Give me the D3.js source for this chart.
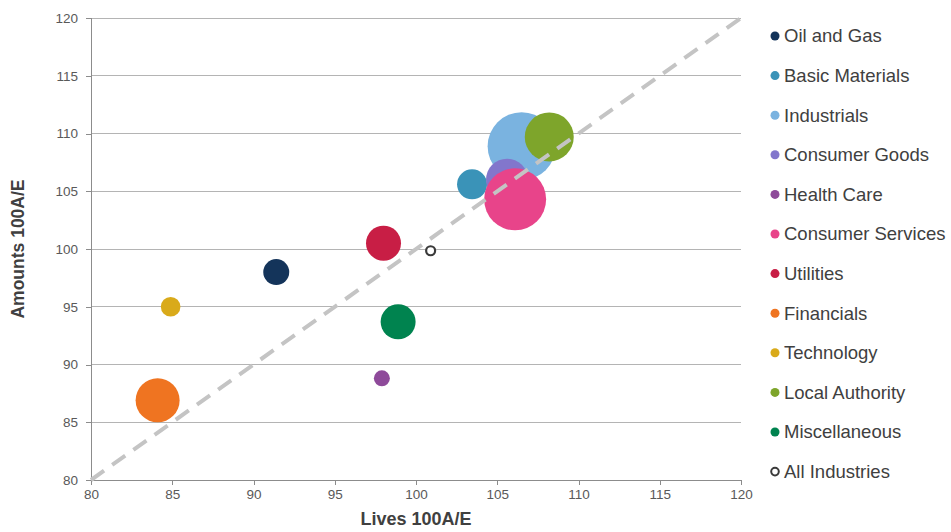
<!DOCTYPE html>
<html><head><meta charset="utf-8">
<script src="https://cdn.jsdelivr.net/npm/d3@7"></script>
<style>body{margin:0;background:#fff;}svg{display:block;font-family:"Liberation Sans",Arial,sans-serif;}</style>
</head><body><svg id="c" width="951" height="532"></svg>
<script>
const categories = ["Oil and Gas","Basic Materials","Industrials","Consumer Goods","Health Care","Consumer Services","Utilities","Financials","Technology","Local Authority","Miscellaneous"];
const livesAE   = [91.4, 103.45, 106.5, 105.6, 97.9, 106.1, 98.0, 84.1, 84.9, 108.2, 98.9];
const amountsAE = [98.0, 105.6, 108.9, 106.0, 88.8, 104.3, 100.5, 86.9, 95.0, 109.7, 93.7];
const bubbleSize = [169, 225, 1156, 441, 64, 961, 306, 484, 96, 600, 306];
const colors = ["#14345a","#3a93b8","#7ab3e0","#8276cc","#8e4a9a","#e8448a","#c81e45","#ef7421","#d9aa1a","#7ea52b","#00834f"];
const allIndustries = {name:"All Industries", lives:100.9, amounts:99.85};
const xTicks = [80,85,90,95,100,105,110,115,120];
const yTicks = [80,85,90,95,100,105,110,115,120];

const svg = d3.select("#c");
const L=91, R=741, T=18, B=480;
const x = d3.scaleLinear().domain([80,120]).range([L,R]);
const y = d3.scaleLinear().domain([80,120]).range([B,T]);
const r = d3.scaleSqrt().domain([0,1156]).range([0,34]);

// grid
svg.append("g").selectAll("line").data(yTicks.filter(v=>v>80)).join("line")
  .attr("x1",L).attr("x2",R).attr("y1",d=>y(d)).attr("y2",d=>y(d))
  .attr("stroke","#b4b4b4").attr("stroke-width",1).attr("shape-rendering","crispEdges");

// axes
const xa = svg.append("g").attr("transform",`translate(0,${B})`)
  .call(d3.axisBottom(x).tickValues(xTicks).tickSize(5).tickPadding(4).tickFormat(d3.format("d")));
const ya = svg.append("g").attr("transform",`translate(${L},0)`)
  .call(d3.axisLeft(y).tickValues(yTicks).tickSize(5).tickPadding(8).tickFormat(d3.format("d")));
[xa,ya].forEach(a=>{
  a.select(".domain").attr("stroke","#8c8c8c").attr("shape-rendering","crispEdges");
  a.selectAll(".tick line").attr("stroke","#8c8c8c").attr("shape-rendering","crispEdges");
  a.selectAll(".tick text").attr("fill","#595959").style("font-size","13.5px").style("font-family","'Liberation Sans',Arial,sans-serif");
});
ya.select(".domain").attr("d",`M0,${B}V${T}`);
xa.select(".domain").attr("d",`M${L},0H${R}`);

// bubbles
const data = categories.map((c,i)=>({c, x:livesAE[i], y:amountsAE[i], s:bubbleSize[i], col:colors[i]}));
svg.append("g").selectAll("circle").data(data).join("circle")
  .attr("cx",d=>x(d.x)).attr("cy",d=>y(d.y)).attr("r",d=>r(d.s)).attr("fill",d=>d.col);

// all industries
svg.append("circle").attr("cx",x(allIndustries.lives)).attr("cy",y(allIndustries.amounts)).attr("r",4.5)
  .attr("fill","#fff").attr("stroke","#3a3a3a").attr("stroke-width",2.2);

// diagonal
svg.append("line").attr("x1",x(80)).attr("y1",y(80)).attr("x2",x(120)).attr("y2",y(120))
  .attr("stroke","#c4c4c4").attr("stroke-width",4).attr("stroke-dasharray","16,10");

// titles
svg.append("text").attr("x",(L+R)/2).attr("y",525).attr("text-anchor","middle")
  .attr("fill","#404040").style("font-weight","bold").style("font-size","18px").text("Lives 100A/E");
svg.append("text").attr("transform",`translate(24,${(T+B)/2}) rotate(-90)`).attr("text-anchor","middle")
  .attr("fill","#404040").style("font-weight","bold").style("font-size","17.5px").text("Amounts 100A/E");

// legend
const legItems = data.map(d=>({name:d.c,col:d.col,ring:false})).concat([{name:allIndustries.name,col:"#3a3a3a",ring:true}]);
const lg = svg.append("g").selectAll("g").data(legItems).join("g")
  .attr("transform",(d,i)=>`translate(775,${36+i*39.6})`);
lg.append("circle").attr("r",d=>d.ring?3.8:4.5).attr("fill",d=>d.ring?"#fff":d.col)
  .attr("stroke",d=>d.ring?d.col:"none").attr("stroke-width",2);
lg.append("text").attr("x",9).attr("dy","0.35em").attr("fill","#404040").style("font-size","18.5px").text(d=>d.name);
</script></body></html>
